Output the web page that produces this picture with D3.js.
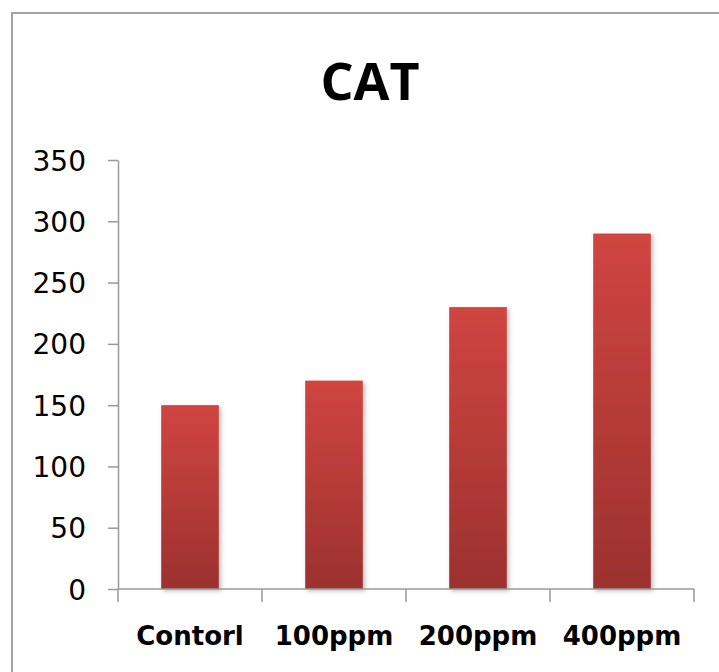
<!DOCTYPE html>
<html>
<head>
<meta charset="utf-8">
<script src="https://cdn.jsdelivr.net/npm/d3@7/dist/d3.min.js"></script>
<style>
  html, body { margin: 0; padding: 0; background: #fff; }
  svg { display: block; }
</style>
</head>
<body>
<script>
// CAT activity by treatment
const categories = ["Contorl", "100ppm", "200ppm", "400ppm"];
const values = [150, 170, 230, 290];
const yTicks = [0, 50, 100, 150, 200, 250, 300, 350];
const title = "CAT";

const W = 719, H = 672;
const svg = d3.select("body").append("svg").attr("width", W).attr("height", H);

const defs = svg.append("defs");
const grad = defs.append("linearGradient")
  .attr("id", "barFill").attr("x1", 0).attr("y1", 0).attr("x2", 0).attr("y2", 1);
grad.append("stop").attr("offset", "0%").attr("stop-color", "#d04541");
grad.append("stop").attr("offset", "100%").attr("stop-color", "#9c312f");

const shadow = defs.append("filter").attr("id", "barShadow")
  .attr("x", "-20%").attr("y", "-5%").attr("width", "150%").attr("height", "115%");
shadow.append("feDropShadow").attr("dx", 2).attr("dy", 2)
  .attr("stdDeviation", 2).attr("flood-color", "#000").attr("flood-opacity", 0.28);

// chart frame
svg.append("rect")
  .attr("x", 12).attr("y", 13).attr("width", 730).attr("height", 700)
  .attr("fill", "#fff").attr("stroke", "#a3a3a3").attr("stroke-width", 2);

const plot = { left: 118, right: 694, top: 160, bottom: 589 };

const x = d3.scaleBand().domain(categories)
  .range([plot.left, plot.right]).paddingInner(0.6).paddingOuter(0.3);
const y = d3.scaleLinear().domain([0, 350]).range([plot.bottom, plot.top]);

// bars
svg.append("g").selectAll("rect").data(values).join("rect")
  .attr("x", (d, i) => x(categories[i]))
  .attr("y", d => y(d))
  .attr("width", x.bandwidth())
  .attr("height", d => y(0) - y(d))
  .attr("fill", "url(#barFill)")
  .attr("filter", "url(#barShadow)");

// y axis
const yAxis = svg.append("g")
  .attr("transform", `translate(${plot.left},0)`)
  .call(d3.axisLeft(y).tickValues(yTicks).tickSize(10).tickSizeOuter(0).tickPadding(22));
yAxis.selectAll("path, line").attr("stroke", "#999").attr("stroke-width", 1.5);
yAxis.selectAll("text")
  .attr("font-family", "'DejaVu Sans', Verdana, sans-serif")
  .attr("font-size", 28).attr("fill", "#000").attr("dy", "0.36em");

// x axis with category boundary ticks
const xEdges = d3.scaleLinear().domain([0, categories.length]).range([plot.left, plot.right]);
const xAxis = svg.append("g").attr("transform", `translate(0,${plot.bottom})`);
xAxis.append("line")
  .attr("x1", plot.left).attr("x2", plot.right)
  .attr("stroke", "#999").attr("stroke-width", 1.5);
xAxis.selectAll("line.tick").data(d3.range(categories.length + 1)).join("line")
  .attr("class", "tick")
  .attr("x1", d => xEdges(d)).attr("x2", d => xEdges(d))
  .attr("y1", 0).attr("y2", 13)
  .attr("stroke", "#999").attr("stroke-width", 1.5);
xAxis.selectAll("text").data(categories).join("text")
  .attr("x", d => x(d) + x.bandwidth() / 2)
  .attr("y", 56)
  .attr("text-anchor", "middle")
  .attr("font-family", "'DejaVu Sans', Verdana, sans-serif")
  .attr("font-weight", "bold")
  .attr("font-size", 26)
  .attr("fill", "#000")
  .text(d => d);

// title
svg.append("text")
  .attr("x", 370).attr("y", 100)
  .attr("text-anchor", "middle")
  .attr("font-family", "'Open Sans', 'Liberation Sans', sans-serif")
  .attr("font-weight", "bold")
  .attr("font-size", 52)
  .attr("fill", "#000")
  .text(title);
</script>
</body>
</html>
